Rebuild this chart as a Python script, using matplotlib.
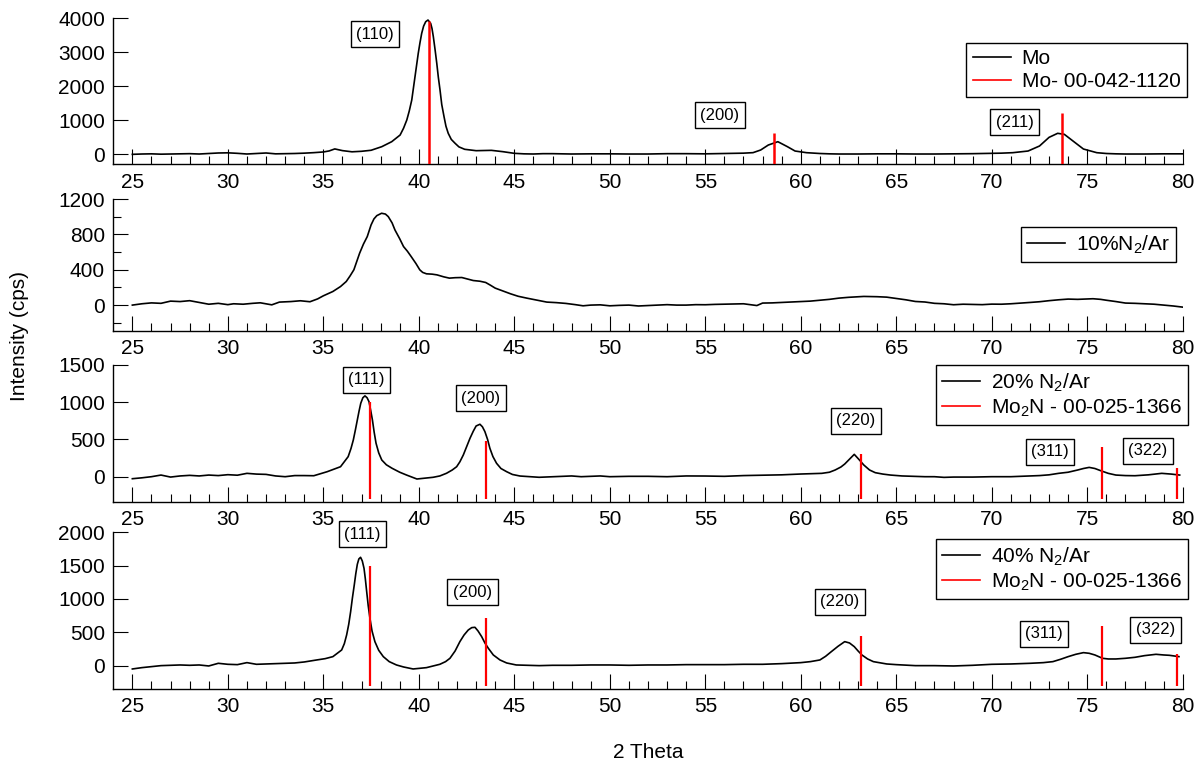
import matplotlib
matplotlib.use("Agg")
import matplotlib.pyplot as plt
from matplotlib.lines import Line2D
from matplotlib.ticker import FixedLocator

plt.rcParams['font.family'] = ['Liberation Sans', 'DejaVu Sans']
plt.rcParams['mathtext.default'] = 'regular'

# --- Mo film -------------------------------------------------------------
mo_x = [25, 25.5, 26, 26.5, 27, 27.5, 28, 28.5, 29, 29.5, 30, 30.5, 31, 31.5,
        32, 32.5, 33, 33.5, 34, 34.5, 35, 35.3, 35.6, 36, 36.5, 37, 37.5,
        38.06, 38.58, 39.02, 39.2, 39.37, 39.5, 39.63, 39.8, 39.97, 40.06,
        40.15, 40.25, 40.36, 40.48, 40.62, 40.69, 40.76, 40.85, 40.94, 41.02,
        41.11, 41.2, 41.32, 41.42, 41.54, 41.7, 41.9, 42.1, 42.4, 43.0, 43.8,
        44.4, 45, 45.5, 46, 46.5, 47, 48, 49, 50, 51, 52, 53, 54, 55, 56, 57,
        57.5, 57.9, 58.3, 58.8, 59.3, 59.7, 60.3, 61, 61.5, 62, 63, 64, 65,
        66, 67, 68, 69, 70, 70.5, 71.1, 71.9, 72.5, 73.0, 73.45, 73.8, 74.3,
        74.8, 75.5, 76, 76.5, 77, 78, 79, 80]
mo_y = [-10, 0, 5, -5, 0, 5, 10, 0, 15, 30, 35, 20, 0, 15,
        30, 5, 10, 15, 25, 40, 60, 90, 150, 100, 65, 80, 110,
        216, 363, 560, 760, 1002, 1270, 1592, 2280, 2968, 3280,
        3557, 3770, 3901, 3950, 3852, 3700, 3458, 3080, 2674, 2270,
        1887, 1460, 1100, 820, 610, 430, 315, 210, 139, 98, 108,
        69, 20, 5, 0, 10, 10, 0, 5, 5, 0, 0, 10, 10, 5, 15, 25,
        40, 118, 265, 363, 216, 88, 39, 15, 5, 0, 0, 5, 5,
        0, 0, 5, 10, 20, 25, 39, 88, 236, 491, 610, 580, 363,
        147, 39, 15, 5, 0, 0, 5, 5]

# Mo reference card 00-042-1120
mo_ref_x = [40.52, 58.61, 73.68]
mo_ref_h = [3920, 620, 1210]
mo_hkl = ['(110)', '(200)', '(211)']

# --- 10% N2/Ar -----------------------------------------------------------
n10_x = [25, 25.5, 26, 26.5, 27, 27.5, 28, 28.5, 29, 29.5, 30, 30.3, 30.8,
         31.3, 31.7, 32.3, 32.7, 33.3, 33.8, 34.3, 34.7, 35.0, 35.5, 35.9,
         36.2, 36.4, 36.6, 36.9, 37.1, 37.3, 37.5, 37.65, 37.8, 38.05, 38.25,
         38.4, 38.6, 38.75, 39.0, 39.2, 39.4, 39.6, 39.85, 40.05, 40.2, 40.4,
         40.7, 40.95, 41.3, 41.6, 41.9, 42.25, 42.55, 42.85, 43.2, 43.5, 43.75,
         44.0, 44.4, 44.8, 45.2, 45.65, 46.2, 46.7, 47.2, 47.7, 48.2, 48.6,
         49.0, 49.5, 50, 50.5, 51, 51.5, 52, 52.5, 53, 53.5, 54, 54.5, 55,
         55.5, 56, 56.5, 57, 57.7, 58, 58.5, 59, 59.5, 60, 60.5, 61, 61.5, 62,
         62.5, 63.3, 64, 64.5, 65, 65.5, 66, 66.5, 67, 67.5, 68, 68.5, 69,
         69.5, 70, 70.5, 71, 71.5, 72, 72.5, 73, 73.5, 74, 74.5, 75.3, 75.7,
         76, 76.5, 77, 77.5, 78, 78.5, 79, 79.5, 80]
n10_y = [0, 15, 25, 20, 45, 40, 50, 30, 10, 20, 5, 15, 10,
         20, 26, 3, 34, 40, 49, 38, 70, 105, 154, 210,
         267, 330, 400, 587, 690, 775, 907, 975, 1012, 1039, 1030,
         1001, 930, 850, 750, 662, 610, 549, 470, 399, 370, 354,
         350, 342, 320, 305, 310, 312, 295, 278, 270, 256, 225,
         192, 160, 128, 100, 79, 55, 34, 28, 19, 5, -8,
         0, 3, -8, -3, 0, -10, -5, 0, 5, 0, 0, 5, 4,
         8, 10, 12, 15, -5, 23, 25, 30, 35, 41, 45, 55, 65, 79,
         88, 98, 95, 90, 75, 60, 41, 35, 20, 15, 4, 10, 8,
         5, 11, 10, 15, 22, 30, 38, 50, 60, 68, 65, 72, 65,
         55, 40, 23, 20, 15, 10, 0, -10, -23]

# --- 20% N2/Ar -----------------------------------------------------------
n20_x = [25, 25.5, 26, 26.5, 27, 27.5, 28, 28.5, 29, 29.5, 30, 30.5, 31,
         31.5, 32, 32.5, 33, 33.5, 34, 34.5, 35.2, 35.9, 36.3, 36.45, 36.57,
         36.68, 36.78, 36.87, 36.96, 37.07, 37.18, 37.29, 37.39, 37.48, 37.57,
         37.66, 37.76, 37.9, 38.06, 38.3, 38.6, 39.0, 39.35, 39.9, 40.3, 40.75,
         41.1, 41.45, 41.75, 41.98, 42.15, 42.33, 42.5, 42.68, 42.85, 43.0,
         43.2, 43.33, 43.46, 43.6, 43.72, 43.88, 44.07, 44.3, 44.6, 44.9, 45.3,
         45.8, 46.3, 47, 47.5, 48, 48.5, 49, 49.5, 50, 51, 52, 53, 54, 55, 56,
         57, 58, 59, 60, 60.5, 61.1, 61.5, 61.8, 62.1, 62.3, 62.55, 62.8,
         63.05, 63.3, 63.6, 63.9, 64.3, 64.7, 65.3, 66, 66.5, 67, 67.5, 68,
         69, 70, 71, 71.5, 72, 72.5, 73, 73.5, 74, 74.5, 74.8, 75.1, 75.4,
         75.7, 76.1, 76.5, 77, 77.5, 78.2, 78.9, 79.4, 79.84]
n20_y = [-27, -15, 0, 22, -5, 10, 18, 10, 22, 15, 27, 20, 45,
         35, 31, 10, 0, 15, 15, 13, 67, 134, 269, 380, 493,
         630, 762, 880, 986, 1060, 1085, 1060, 1008, 890, 762,
         600, 449, 320, 224, 160, 113, 60, 23, -31, -20, -8,
         10, 46, 90, 134, 200, 292, 400, 516, 610, 681,
         704, 670, 605, 500, 382, 270, 180, 110, 67, 30, 9,
         0, -8, 0, 5, 10, 0, 5, 10, 0, 5, 5, 0, 10, 9, 5,
         15, 20, 25, 36, 40, 45, 60, 90, 130, 170, 235, 300,
         230, 157, 90, 54, 35, 22, 10, 5, 0, 0, -9, -5,
         -5, 0, 0, 5, 10, 15, 25, 45, 60, 90, 110, 125, 110,
         81, 45, 22, 15, 13, 25, 45, 35, 22]

# --- 40% N2/Ar -----------------------------------------------------------
n40_x = [25, 25.5, 26, 26.5, 27, 27.5, 28, 28.5, 29, 29.5, 30, 30.5, 31,
         31.5, 32, 32.5, 33, 33.5, 34, 34.65, 35.1, 35.5, 35.96, 36.1, 36.22,
         36.33, 36.43, 36.52, 36.62, 36.7, 36.78, 36.86, 36.95, 37.04, 37.13,
         37.2, 37.27, 37.35, 37.44, 37.55, 37.7, 37.9, 38.14, 38.45, 38.83,
         39.2, 39.7, 40.4, 41.1, 41.4, 41.63, 41.9, 42.15, 42.37, 42.59, 42.77,
         42.94, 43.1, 43.29, 43.46, 43.64, 43.9, 44.25, 44.6, 45.1, 45.7, 46.3,
         47, 48, 49, 50, 51, 52, 53, 54, 55, 56, 57, 58, 59, 60, 60.5, 61,
         61.3, 61.6, 61.95, 62.3, 62.55, 62.8, 63.0, 63.2, 63.5, 63.8, 64.5,
         65, 66, 67, 68, 69, 70, 71, 72, 72.7, 73.2, 73.6, 74, 74.4, 74.8,
         75.1, 75.4, 75.8, 76.1, 76.5, 77, 77.5, 78, 78.6, 79, 79.3, 79.8]
n40_y = [-50, -30, -15, 0, 5, 10, 5, 10, -5, 35, 20, 15, 45,
         20, 25, 30, 35, 40, 55, 85, 105, 135, 235, 330, 460,
         620, 810, 1010, 1210, 1380, 1520, 1600, 1625, 1570, 1460,
         1300, 1110, 900, 710, 520, 360, 230, 135, 60, 10,
         -20, -50, -30, 20, 60, 110, 220, 360, 460, 535, 570,
         575, 520, 435, 340, 260, 160, 85, 40, 10, 5, 0,
         5, 5, 10, 10, 5, 10, 10, 15, 15, 15, 20, 20, 30, 45, 60, 85,
         140, 210, 290, 360, 340, 285, 220, 160, 100, 60, 25,
         15, 0, 0, -5, 5, 20, 25, 35, 45, 60, 95, 135, 170, 195,
         185, 160, 110, 100, 100, 110, 125, 150, 170, 160, 155, 135]

# Mo2N reference card 00-025-1366
mo2n_ref_x = [37.44, 43.50, 63.17, 75.77, 79.72]
mo2n_20_h = [1000, 480, 300, 400, 120]
mo2n_40_h = [1500, 720, 450, 600, 180]
mo2n_hkl = ['(111)', '(200)', '(220)', '(311)', '(322)']

FS = 15
REF_BOTTOM = -300


def style_axes(ax, ylim, yticks, yminor=None):
    ax.set_xlim(24, 80)
    ax.set_ylim(*ylim)
    ax.xaxis.set_major_locator(FixedLocator(range(25, 81, 5)))
    ax.xaxis.set_minor_locator(FixedLocator(range(25, 81, 1)))
    ax.yaxis.set_major_locator(FixedLocator(yticks))
    ax.yaxis.set_minor_locator(FixedLocator(yminor if yminor else []))
    for side in ('top', 'right'):
        ax.spines[side].set_visible(False)
    for side in ('left', 'bottom'):
        ax.spines[side].set_linewidth(1.0)
    ax.tick_params(which='major', direction='in', length=11, width=0.8,
                   labelsize=FS, pad=6)
    ax.tick_params(which='minor', direction='in', length=6, width=0.8)


def add_legend(ax, labels, anchor, with_ref=True):
    handles = [Line2D([], [], color='black', lw=1.2)]
    if with_ref:
        handles.append(Line2D([], [], color='red', lw=1.2))
    leg = ax.legend(handles, labels, loc='upper right', bbox_to_anchor=anchor,
                    bbox_transform=fig.transFigure, fontsize=FS,
                    frameon=True, fancybox=False, framealpha=1,
                    edgecolor='black', handlelength=1.85, handletextpad=0.5,
                    borderpad=0.3, labelspacing=0.2, borderaxespad=0)
    leg.get_frame().set_linewidth(1.0)


def add_hkl(ax, labels, xs, ys):
    for lab, x, y in zip(labels, xs, ys):
        ax.text(x, y, lab, ha='center', va='center', fontsize=12,
                bbox=dict(boxstyle='square,pad=0.33', fc='white',
                          ec='black', lw=1.0))


fig = plt.figure(figsize=(12.01, 7.64), dpi=100)
left, width = 0.0943, 0.8905

ax1 = fig.add_axes([left, 0.7851, width, 0.1909])
ax2 = fig.add_axes([left, 0.5671, width, 0.1724])
ax3 = fig.add_axes([left, 0.3429, width, 0.1794])
ax4 = fig.add_axes([left, 0.0982, width, 0.2051])

# Mo
ax1.plot(mo_x, mo_y, color='black', lw=1.2)
ax1.vlines(mo_ref_x, REF_BOTTOM, mo_ref_h, color='red', lw=1.8, zorder=3)
style_axes(ax1, (-300, 4000), [0, 1000, 2000, 3000, 4000])
add_hkl(ax1, mo_hkl, [37.7, 55.76, 71.21], [3530, 1150, 943])
add_legend(ax1, ['Mo', 'Mo- 00-042-1120'], (0.9881, 0.9441))

# 10% N2/Ar
ax2.plot(n10_x, n10_y, color='black', lw=1.2)
style_axes(ax2, (-290, 1200), [0, 400, 800, 1200], [-200, 200, 600, 1000])
add_legend(ax2, ['10%N$_2$/Ar'], (0.9792, 0.7029), with_ref=False)

# 20% N2/Ar
ax3.plot(n20_x, n20_y, color='black', lw=1.2)
ax3.vlines(mo2n_ref_x, REF_BOTTOM, mo2n_20_h, color='red', lw=1.6, zorder=3)
style_axes(ax3, (-340, 1500), [0, 500, 1000, 1500])
add_hkl(ax3, mo2n_hkl, [37.25, 43.24, 62.89, 73.05, 78.18],
        [1304, 1054, 749, 332, 345])
add_legend(ax3, ['20% N$_2$/Ar', 'Mo$_2$N - 00-025-1366'], (0.9892, 0.5223))

# 40% N2/Ar
ax4.plot(n40_x, n40_y, color='black', lw=1.2)
ax4.vlines(mo2n_ref_x, REF_BOTTOM, mo2n_40_h, color='red', lw=1.6, zorder=3)
style_axes(ax4, (-350, 2000), [0, 500, 1000, 1500, 2000])
add_hkl(ax4, mo2n_hkl, [37.04, 42.81, 62.05, 72.74, 78.57],
        [1968, 1098, 955, 475, 535])
add_legend(ax4, ['40% N$_2$/Ar', 'Mo$_2$N - 00-025-1366'], (0.9892, 0.2945))

fig.text(0.5396, 0.0157, '2 Theta', ha='center', va='center', fontsize=FS)
fig.text(0.016, 0.560, 'Intensity (cps)', rotation=90, ha='center',
         va='center', fontsize=FS)

fig.savefig('out.png', dpi=100)
